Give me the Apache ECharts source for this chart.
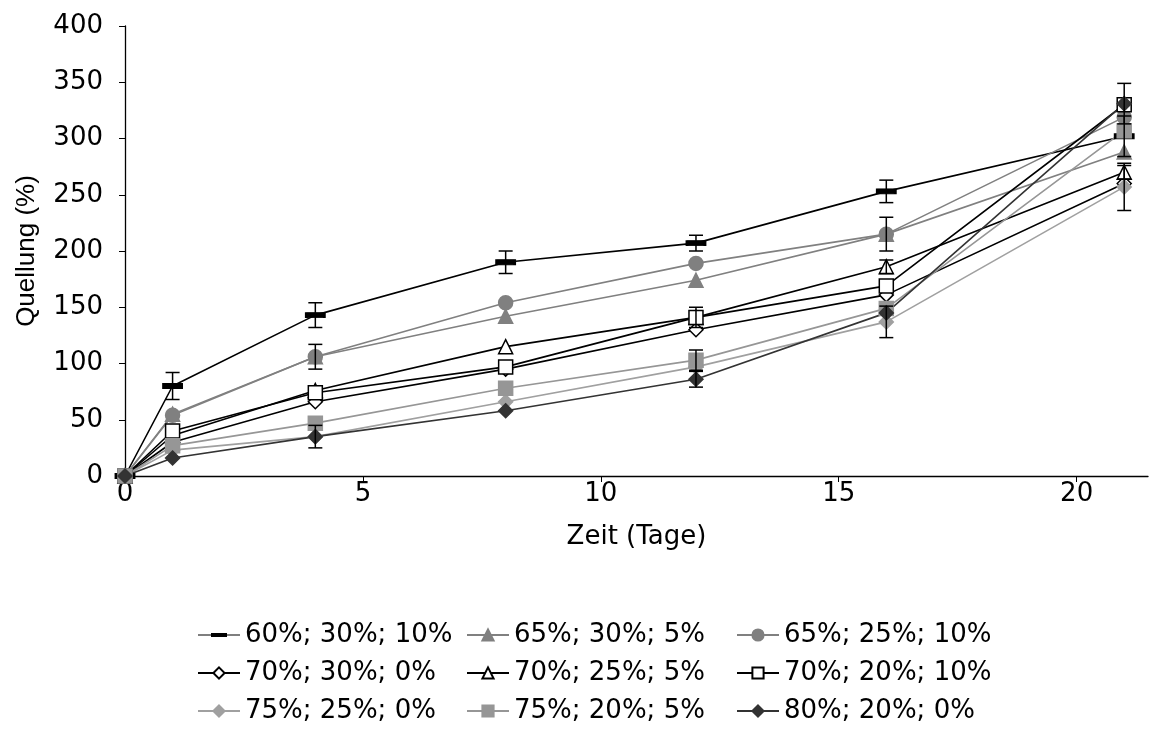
<!DOCTYPE html>
<html>
<head>
<meta charset="utf-8">
<script src="https://cdn.jsdelivr.net/npm/echarts@6/dist/echarts.min.js"></script>
<style>html,body{margin:0;padding:0;background:#fff}#c{width:1167px;height:731px}</style>
</head>
<body>
<div id="c"></div>
<script>
const days = [0, 1, 4, 8, 12, 16, 21];
const xTicks = [0, 5, 10, 15, 20];
const names = ['60%; 30%; 10%', '65%; 30%; 5%', '65%; 25%; 10%',
               '70%; 30%; 0%', '70%; 25%; 5%', '70%; 20%; 10%',
               '75%; 25%; 0%', '75%; 20%; 5%', '80%; 20%; 0%'];
const s60_30_10 = [0, 80, 143, 190, 207, 253, 302];
const s65_30_5  = [0, 55, 106, 142, 174, 215, 288];
const s65_25_10 = [0, 54, 106, 154, 189, 215, 319];
const s70_30_0  = [0, 30, 66, 95, 130, 161, 260];
const s70_25_5  = [0, 36, 76, 115, 141, 186, 270];
const s70_20_10 = [0, 40, 74, 97, 141, 169, 330];
const s75_25_0  = [0, 23, 35, 66, 97, 137, 257];
const s75_20_5  = [0, 27, 47, 78, 103, 149, 307];
const s80_20_0  = [0, 16, 35, 58, 86, 145, 331];
// error (± half-width) per point
const e60_30_10 = [0, 12, 11, 10, 7, 10, 18];
const e65_25_10 = [0, 0, 11, 0, 0, 15, 0];
const e70_25_5  = [0, 0, 0, 0, 0, 6, 6];
const e70_20_10 = [0, 0, 0, 0, 9, 0, 0];
const e75_25_0  = [0, 0, 0, 0, 0, 14, 21];
const e75_20_5  = [0, 0, 0, 0, 9, 0, 0];
const e80_20_0  = [0, 0, 10, 0, 7, 0, 18];

const values = [s60_30_10, s65_30_5, s65_25_10, s70_30_0, s70_25_5, s70_20_10, s75_25_0, s75_20_5, s80_20_0];
const errs = [e60_30_10, null, e65_25_10, null, e70_25_5, e70_20_10, e75_25_0, e75_20_5, e80_20_0];

const styles = [
  {line:'#000000', fill:'#000000', border:'#000000', symbol:'rect', size:[18,5]},
  {line:'#808080', fill:'#808080', border:'#808080', symbol:'triangle', size:14},
  {line:'#808080', fill:'#808080', border:'#808080', symbol:'circle', size:14},
  {line:'#000000', fill:'#ffffff', border:'#000000', symbol:'diamond', size:14},
  {line:'#000000', fill:'#ffffff', border:'#000000', symbol:'triangle', size:14},
  {line:'#000000', fill:'#ffffff', border:'#000000', symbol:'rect', size:14},
  {line:'#a0a0a0', fill:'#a0a0a0', border:'#a0a0a0', symbol:'diamond', size:14},
  {line:'#969696', fill:'#969696', border:'#969696', symbol:'rect', size:14},
  {line:'#333333', fill:'#333333', border:'#333333', symbol:'diamond', size:14}
];

const series = [];
values.forEach((vals, i) => {
  const st = styles[i];
  series.push({
    name: names[i], type: 'line', data: days.map((d, k) => [d, vals[k]]),
    symbol: st.symbol, symbolSize: st.size, showSymbol: true,
    lineStyle: {color: st.line, width: 1.6},
    itemStyle: {color: st.fill, borderColor: st.border, borderWidth: 1.5},
    emphasis: {disabled: true}, animation: false, z: 3
  });
});
const errData = [];
values.forEach((vals, i) => {
  const e = errs[i]; if (!e) return;
  days.forEach((d, k) => { if (e[k] > 0) errData.push([d, vals[k] - e[k], vals[k] + e[k]]); });
});
series.push({
  type: 'custom', name: 'err', data: errData, z: 4, animation: false, silent: true,
  renderItem: function (params, api) {
    const x = api.value(0);
    const lo = api.coord([x, api.value(1)]);
    const hi = api.coord([x, api.value(2)]);
    const w = 7;
    const st = {stroke: '#000', lineWidth: 1.5};
    return {type: 'group', children: [
      {type: 'line', shape: {x1: lo[0], y1: lo[1], x2: hi[0], y2: hi[1]}, style: st},
      {type: 'line', shape: {x1: lo[0]-w, y1: lo[1], x2: lo[0]+w, y2: lo[1]}, style: st},
      {type: 'line', shape: {x1: hi[0]-w, y1: hi[1], x2: hi[0]+w, y2: hi[1]}, style: st}
    ]};
  },
  encode: {x: 0, y: [1, 2]}
});

const wideFont = 'DejaVu Sans, Verdana, sans-serif';
const narrowFont = 'Liberation Sans, Arial, sans-serif';
const legendBase = {orient: 'vertical', itemWidth: 42, itemHeight: 14, itemGap: 8, padding: 0,
  textStyle: {fontFamily: wideFont, fontSize: 26, color: '#000', lineHeight: 30}, selectedMode: false, bottom: 5};
const dashIcon = 'path://M0,0L0.01,0L0,0.01Z M0,14L0.01,14L0,13.99Z M0,6.4L42,6.4L42,7.6L0,7.6Z M13,5L29,5L29,9L13,9Z';
function legItems(idx) {
  return idx.map(i => i === 0 ? {name: names[i], icon: dashIcon, itemStyle: {color: '#000', borderWidth: 0}} : names[i]);
}

const chart = echarts.init(document.getElementById('c'), null, {renderer: 'canvas'});
chart.setOption({
  backgroundColor: '#fff',
  animation: false,
  grid: {left: 125, right: 19, top: 26, bottom: 255, containLabel: false},
  xAxis: {
    type: 'value', min: 0, max: 21.5,
    name: 'Zeit (Tage)', nameLocation: 'middle', nameGap: 48,
    nameTextStyle: {fontFamily: wideFont, fontSize: 26, color: '#000'},
    axisLine: {lineStyle: {color: '#000', width: 1.3}},
    axisTick: {show: true, length: 6, lineStyle: {color: '#000'}, customValues: xTicks},
    axisLabel: {fontFamily: wideFont, fontSize: 26, color: '#000', margin: 5, customValues: xTicks},
    splitLine: {show: false}
  },
  yAxis: {
    type: 'value', min: 0, max: 400, interval: 50,
    name: 'Quellung (%)', nameLocation: 'middle', nameGap: 85, nameRotate: 90,
    nameTextStyle: {fontFamily: narrowFont, fontSize: 26, color: '#000'},
    axisLine: {show: true, lineStyle: {color: '#000', width: 1.3}},
    axisTick: {show: true, length: 6, lineStyle: {color: '#000'}},
    axisLabel: {fontFamily: wideFont, fontSize: 26, color: '#000', margin: 22},
    splitLine: {show: false}
  },
  legend: [
    Object.assign({}, legendBase, {left: 197, data: legItems([0, 3, 6])}),
    Object.assign({}, legendBase, {left: 466, data: legItems([1, 4, 7])}),
    Object.assign({}, legendBase, {left: 736, data: legItems([2, 5, 8])})
  ],
  series: series
});
</script>
</body>
</html>
